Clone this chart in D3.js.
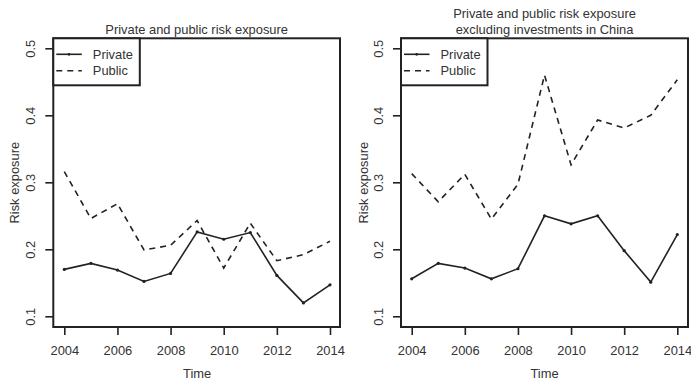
<!DOCTYPE html>
<html><head><meta charset="utf-8">
<script src="https://cdn.jsdelivr.net/npm/d3@7"></script>
<style>body{margin:0;background:#fff}svg{display:block}</style>
</head><body>
<svg id="chart" width="691" height="380"></svg>
<script>
const years = [2004,2005,2006,2007,2008,2009,2010,2011,2012,2013,2014];
const privateAll = [0.170,0.179,0.169,0.152,0.164,0.226,0.215,0.225,0.161,0.120,0.147];
const publicAll  = [0.316,0.246,0.268,0.199,0.206,0.243,0.172,0.239,0.183,0.192,0.212];
const privateExChina = [0.156,0.179,0.172,0.156,0.171,0.250,0.238,0.250,0.198,0.151,0.222];
const publicExChina  = [0.313,0.271,0.312,0.245,0.297,0.460,0.326,0.393,0.381,0.400,0.453];
const xTicks = [2004,2006,2008,2010,2012,2014];
const yTicks = [0.1,0.2,0.3,0.4,0.5];
const seriesNames = ["Private","Public"];

const svg = d3.select("#chart");
const font = "'Liberation Sans', Arial, Helvetica, sans-serif";
const fs = 12.9;
const ink = "#222";
const txt = "#333";

const panels = [
  {title:["Private and public risk exposure"], priv:privateAll, pub:publicAll,
   box:[53.3,38.3,340,327], xr:[64.3,330], ylabX:15, ytickX:30},
  {title:["Private and public risk exposure","excluding investments in China"], priv:privateExChina, pub:publicExChina,
   box:[401,38.3,688,327], xr:[411.7,677.3], ylabX:363.5, ytickX:378.5}
];

panels.forEach(p => {
  const [x0,y0,x1,y1] = p.box;
  const x = d3.scaleLinear().domain([2004,2014]).range(p.xr);
  const y = d3.scaleLinear().domain([0.1,0.5]).range([316.3,48.3]);
  const g = svg.append("g");

  // title
  const tt = g.append("text").attr("font-family",font).attr("font-size",fs).attr("fill",txt)
    .attr("text-anchor","middle");
  const cx = (x0+x1)/2;
  if (p.title.length===1) {
    tt.append("tspan").attr("x",cx).attr("y",34).text(p.title[0]);
  } else {
    tt.append("tspan").attr("x",cx).attr("y",18).text(p.title[0]);
    tt.append("tspan").attr("x",cx).attr("y",34).text(p.title[1]);
  }

  // lines
  const line = d3.line().x((d,i)=>x(years[i])).y(d=>y(d));
  g.append("path").datum(p.pub).attr("d",line).attr("fill","none")
    .attr("stroke",ink).attr("stroke-width",1.6).attr("stroke-dasharray","6,5");
  g.append("path").datum(p.priv).attr("d",line).attr("fill","none")
    .attr("stroke",ink).attr("stroke-width",1.6);
  g.selectAll("circle.pt").data(p.priv).enter().append("circle")
    .attr("cx",(d,i)=>x(years[i])).attr("cy",d=>y(d)).attr("r",1.6).attr("fill",ink);

  // x axis
  const xa = g.append("g").attr("transform",`translate(0,${y1})`)
    .call(d3.axisBottom(x).tickValues(xTicks).tickFormat(d3.format("d")).tickSize(8).tickPadding(11));
  xa.select(".domain").remove();
  xa.selectAll("line").attr("stroke",ink).attr("stroke-width",1.6);
  xa.selectAll("text").attr("font-family",font).attr("font-size",fs).attr("fill",txt);

  // y axis
  const ya = g.append("g").attr("transform",`translate(${x0},0)`)
    .call(d3.axisLeft(y).tickValues(yTicks).tickFormat(d3.format(".1f")).tickSize(8));
  ya.select(".domain").remove();
  ya.selectAll("line").attr("stroke",ink).attr("stroke-width",1.6);
  ya.selectAll("text").remove();
  ya.selectAll(".tick").append("text")
    .attr("transform",`translate(${p.ytickX-x0},0) rotate(-90)`)
    .attr("text-anchor","middle").attr("dy","0.35em")
    .attr("font-family",font).attr("font-size",fs).attr("fill",txt)
    .text(d=>d3.format(".1f")(d));

  // box
  g.append("rect").attr("x",x0).attr("y",y0).attr("width",x1-x0).attr("height",y1-y0)
    .attr("fill","none").attr("stroke",ink).attr("stroke-width",2);

  // axis labels
  g.append("text").attr("x",(p.xr[0]+p.xr[1])/2).attr("y",377.5).attr("text-anchor","middle")
    .attr("font-family",font).attr("font-size",fs).attr("fill",txt).text("Time");
  g.append("text").attr("transform",`translate(${p.ylabX+4},${(y0+y1)/2}) rotate(-90)`)
    .attr("text-anchor","middle").attr("font-family",font).attr("font-size",fs).attr("fill",txt)
    .text("Risk exposure");

  // legend
  const lw = 86.5, lh = 47;
  const lg = g.append("g").attr("transform",`translate(${x0},${y0})`);
  lg.append("rect").attr("x",0).attr("y",0).attr("width",lw).attr("height",lh)
    .attr("fill","#fff").attr("stroke",ink).attr("stroke-width",2);
  seriesNames.forEach((name,i) => {
    const ly = 16 + i*16.5;
    lg.append("line").attr("x1",3).attr("x2",28.5).attr("y1",ly).attr("y2",ly)
      .attr("stroke",ink).attr("stroke-width",1.6)
      .attr("stroke-dasharray", i===1 ? "6,5" : null);
    if (i===0) lg.append("circle").attr("cx",15.7).attr("cy",ly).attr("r",1.4).attr("fill",ink);
    lg.append("text").attr("x",39.5).attr("y",ly).attr("dy","0.35em")
      .attr("font-family",font).attr("font-size",fs).attr("fill",txt).text(name);
  });
});
</script>
</body></html>
